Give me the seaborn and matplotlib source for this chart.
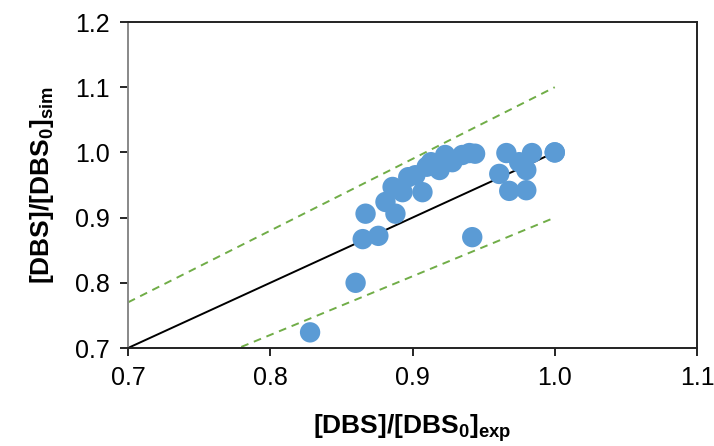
import matplotlib
matplotlib.use("Agg")
import matplotlib.pyplot as plt
import seaborn as sns
import numpy as np
import pandas as pd

# Data
x_exp = [0.828, 0.860, 0.865, 0.876, 0.867, 0.881, 0.888, 0.886, 0.893, 0.897,
         0.907, 0.910, 0.919, 0.923, 0.928, 0.935, 0.940, 0.944, 0.942, 0.966,
         0.961, 0.968, 0.980, 0.984, 0.980, 0.975, 1.000, 1.000, 0.902, 0.913]
y_sim = [0.724, 0.800, 0.867, 0.872, 0.906, 0.924, 0.906, 0.947, 0.939, 0.962,
         0.939, 0.978, 0.973, 0.996, 0.985, 0.996, 0.999, 0.998, 0.870, 0.999,
         0.967, 0.941, 0.942, 0.999, 0.973, 0.985, 1.000, 1.000, 0.965, 0.985]
line_x = [0.7, 1.0]
parity = [0.7, 1.0]
upper = [0.77, 1.10]
lower = [0.63, 0.90]
x_ticks = [0.7, 0.8, 0.9, 1.0, 1.1]
y_ticks = [0.7, 0.8, 0.9, 1.0, 1.1, 1.2]

sns.set_theme(style="white")
plt.rcParams['font.family'] = ['Liberation Sans', 'DejaVu Sans']
plt.rcParams['mathtext.fontset'] = 'custom'
plt.rcParams['mathtext.rm'] = 'Liberation Sans'
plt.rcParams['mathtext.bf'] = 'Liberation Sans:bold'

fig = plt.figure(figsize=(7.14, 4.46), dpi=100)
ax = fig.add_axes([128/714, 1-348/446, (697-128)/714, (348-22)/446])

df = pd.DataFrame({"x": x_exp, "y": y_sim})
lines = pd.DataFrame({"x": line_x, "p": parity, "u": upper, "l": lower})

sns.lineplot(data=lines, x="x", y="u", ax=ax, color="#70AD47", lw=1.4,
             linestyle=(0, (4, 3)), zorder=2)
sns.lineplot(data=lines, x="x", y="l", ax=ax, color="#70AD47", lw=1.4,
             linestyle=(0, (4, 3)), zorder=2)
sns.lineplot(data=lines, x="x", y="p", ax=ax, color="black", lw=1.4, zorder=2)
sns.scatterplot(data=df, x="x", y="y", ax=ax, color="#5B9BD5", s=215,
                edgecolor="none", linewidth=0, zorder=3)

ax.set_xlim(0.7, 1.1)
ax.set_ylim(0.7, 1.2)
ax.set_xticks(x_ticks)
ax.set_yticks(y_ticks)
ax.set_xticklabels([f"{v:.1f}" for v in x_ticks], fontsize=18)
ax.set_yticklabels([f"{v:.1f}" for v in y_ticks], fontsize=18)
ax.tick_params(axis='both', direction='out', length=6, width=1.2, color='black',
               bottom=True, left=True, pad=7, labelcolor='black')

for side in ['top', 'right', 'bottom']:
    ax.spines[side].set_color('#222222')
    ax.spines[side].set_linewidth(1.4)
ax.spines['left'].set_color('#888888')
ax.spines['left'].set_linewidth(1.4)

ax.set_xlabel(r'$\mathbf{[DBS]/[DBS}_{\mathbf{0}}\mathbf{]}_{\mathbf{exp}}$', fontsize=19,
              labelpad=16, color='black')
ax.set_ylabel(r'$\mathbf{[DBS]/[DBS}_{\mathbf{0}}\mathbf{]}_{\mathbf{sim}}$', fontsize=19,
              labelpad=14, color='black')
ax.grid(False)

fig.savefig("out.png", dpi=100)
